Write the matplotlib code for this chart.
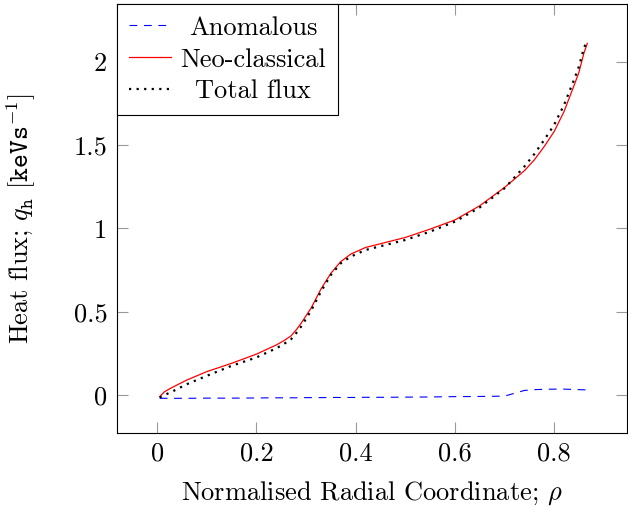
import matplotlib
matplotlib.use("Agg")
import matplotlib.pyplot as plt

plt.rcParams["font.family"] = "serif"
plt.rcParams["font.serif"] = ["cmr10"]
plt.rcParams["mathtext.fontset"] = "cm"
plt.rcParams["axes.unicode_minus"] = False
plt.rcParams["axes.formatter.use_mathtext"] = True

rho = [0.005, 0.015, 0.03, 0.06, 0.1, 0.15, 0.2, 0.24, 0.255, 0.27, 0.28, 0.29, 0.31, 0.33,
       0.35, 0.37, 0.39, 0.42, 0.46, 0.5, 0.55, 0.6, 0.65, 0.7, 0.72, 0.74,
       0.76, 0.78, 0.8, 0.82, 0.84, 0.85, 0.86, 0.867]
neo = [-0.01, 0.02, 0.045, 0.09, 0.14, 0.19, 0.245, 0.30, 0.325, 0.355, 0.39, 0.43, 0.52, 0.635,
       0.73, 0.80, 0.845, 0.885, 0.915, 0.945, 0.995, 1.05, 1.135, 1.245, 1.295, 1.345,
       1.41, 1.49, 1.58, 1.70, 1.855, 1.935, 2.05, 2.11]
anom = [-0.02, -0.02, -0.02, -0.02, -0.019, -0.019, -0.018, -0.017, -0.017, -0.017, -0.017, -0.016, -0.016, -0.016,
        -0.015, -0.015, -0.015, -0.014, -0.014, -0.013, -0.012, -0.01, -0.009, -0.007, 0.01, 0.027,
        0.032, 0.034, 0.035, 0.035, 0.033, 0.032, 0.031, 0.03]
total = [-0.015, 0.0, 0.02, 0.065, 0.115, 0.175, 0.225, 0.28, 0.305, 0.335, 0.37, 0.41, 0.505, 0.62,
         0.72, 0.79, 0.83, 0.87, 0.90, 0.93, 0.98, 1.04, 1.125, 1.24, 1.305, 1.37,
         1.445, 1.53, 1.62, 1.74, 1.89, 1.97, 2.08, 2.13]

xticks = [0, 0.2, 0.4, 0.6, 0.8]
yticks = [0, 0.5, 1, 1.5, 2]
xticklabels = ["0", "0.2", "0.4", "0.6", "0.8"]
yticklabels = ["0", "0.5", "1", "1.5", "2"]

fs = 19
fig = plt.figure(figsize=(6.28, 5.07), dpi=100)
ax = fig.add_axes([117/628, 73.7/507, 510/628, 429.3/507])

ax.plot(rho, anom, color="blue", lw=0.8, dashes=(7, 6), label="Anomalous")
ax.plot(rho, neo, color="red", lw=0.9, label="Neo-classical")
ax.plot(rho, total, color="black", lw=1.6, dashes=(1, 2.4), label="Total flux")

ax.set_xlim(-0.081, 0.947)
ax.set_ylim(-0.23, 2.346)
ax.set_xticks(xticks)
ax.set_xticklabels(xticklabels)
ax.set_yticks(yticks)
ax.set_yticklabels(yticklabels)
ax.tick_params(direction="in", length=8, width=0.8, color="#999999",
               top=True, right=True, labelsize=fs)
ax.tick_params(axis="x", pad=6)
ax.tick_params(axis="y", pad=7)
for s in ax.spines.values():
    s.set_linewidth(0.8)

ax.set_xlabel(r"Normalised Radial Coordinate; $\rho$", fontsize=fs)
ax.set_ylabel(r"Heat flux; $q_{\mathtt{h}}$ [$\mathtt{keVs}^{-1}$]", fontsize=fs)
ax.xaxis.set_label_coords(0.499, -0.107)
ax.yaxis.set_label_coords(-0.155, 0.5)

leg = ax.legend(loc="upper left", fontsize=fs, borderaxespad=0, fancybox=False,
                edgecolor="black", framealpha=1, handlelength=1.6,
                handletextpad=0.35, labelspacing=0.31, borderpad=0.45)
leg.get_frame().set_linewidth(0.8)

# centre legend texts like pgfplots does
fig.canvas.draw()
texts = leg.get_texts()
widths = [t.get_window_extent().width for t in texts]
wmax = max(widths)
for t, w in zip(texts, widths):
    t.set_position(((wmax - w) / 2, 0))

fig.savefig("out.png", dpi=100)
